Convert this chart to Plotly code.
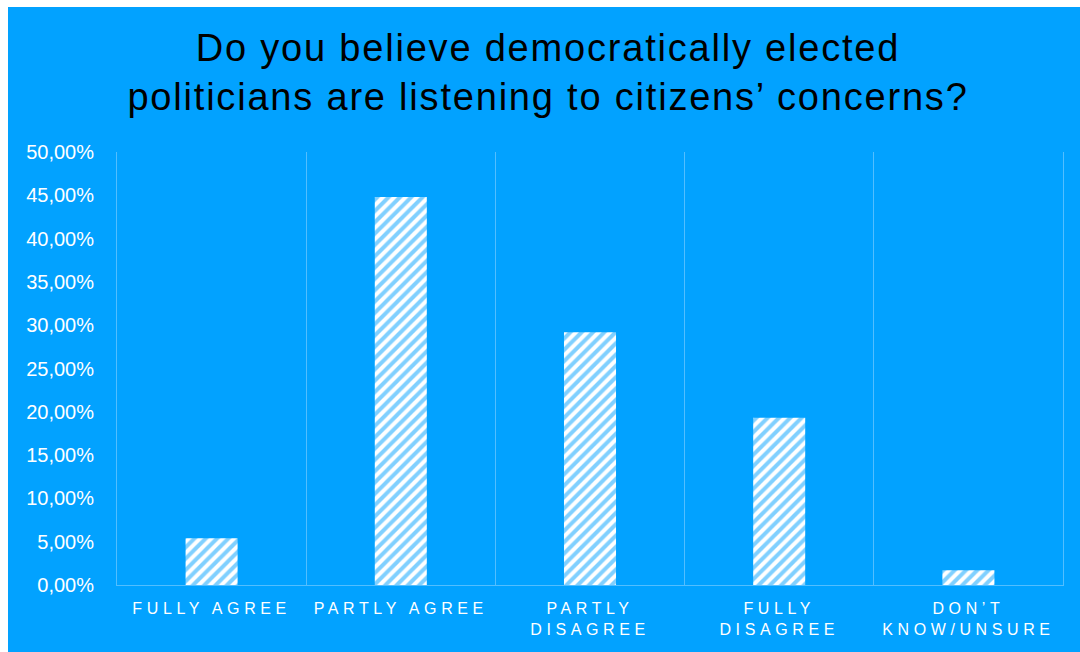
import plotly.graph_objects as go

# Survey answers and the share of respondents for each
categories = ["FULLY AGREE", "PARTLY AGREE", "PARTLY DISAGREE", "FULLY DISAGREE", "DON’T KNOW/UNSURE"]
tick_labels = ["FULLY AGREE", "PARTLY AGREE", "PARTLY<br>DISAGREE", "FULLY<br>DISAGREE", "DON’T<br>KNOW/UNSURE"]
shares = [0.054, 0.448, 0.292, 0.193, 0.017]
y_ticks = [0.0, 0.05, 0.10, 0.15, 0.20, 0.25, 0.30, 0.35, 0.40, 0.45, 0.50]

BLUE = "#02A2FF"
GRID = "#52BEFF"
FONT = "Liberation Sans, Arial, Helvetica, sans-serif"

W, H = 1080, 652
M_L, M_R, M_T, M_B = 117, 17, 152, 67
PW, PH = W - M_L - M_R, H - M_T - M_B


def px_x(p):
    return (p - M_L) / PW


def px_y(p):
    return (H - M_B - p) / PH


spaced = [f'<span style="letter-spacing:4.6px">{t}</span>' for t in tick_labels]
title_text = (
    '<span style="letter-spacing:1.8px">Do you believe democratically elected</span><br>'
    '<span style="letter-spacing:1.8px">politicians are listening to citizens’ concerns?</span>'
)

fig = go.Figure(
    go.Bar(
        x=categories,
        y=shares,
        width=0.275,
        marker=dict(
            color="white",
            line=dict(width=0),
            pattern=dict(shape="/", fgcolor=BLUE, bgcolor="white", size=8, solidity=0.5),
        ),
        hoverinfo="skip",
    )
)

fig.update_layout(
    width=W,
    height=H,
    margin=dict(l=M_L, r=M_R, t=M_T, b=M_B, pad=0),
    paper_bgcolor="white",
    plot_bgcolor="rgba(0,0,0,0)",
    separators=", ",
    showlegend=False,
    title=dict(
        text=title_text,
        font=dict(family=FONT, size=38, color="black"),
        x=548 / W,
        xanchor="center",
        y=1 - 61 / H,
        yanchor="top",
        yref="container",
    ),
    shapes=[
        dict(
            type="rect",
            xref="paper",
            yref="paper",
            x0=px_x(8),
            x1=px_x(W + 2),
            y0=px_y(H + 2),
            y1=px_y(7),
            fillcolor=BLUE,
            line=dict(width=0),
            layer="below",
        )
    ],
)

fig.update_xaxes(
    type="category",
    tickmode="array",
    tickvals=categories,
    ticktext=spaced,
    tickson="boundaries",
    showgrid=True,
    gridcolor=GRID,
    gridwidth=1,
    ticks="",
    showline=True,
    linecolor=GRID,
    linewidth=1,
    range=[-0.5, 4.5],
    tickfont=dict(family=FONT, size=16, color="white"),
    ticklabelstandoff=9,
)

fig.update_yaxes(
    range=[0, 0.5],
    tickmode="array",
    tickvals=y_ticks,
    tickformat=".2%",
    showgrid=False,
    zeroline=False,
    showline=True,
    mirror=True,
    linecolor=GRID,
    linewidth=1,
    ticks="",
    tickfont=dict(family=FONT, size=20, color="white"),
    ticklabelstandoff=18,
)

fig.write_html("out.html")
